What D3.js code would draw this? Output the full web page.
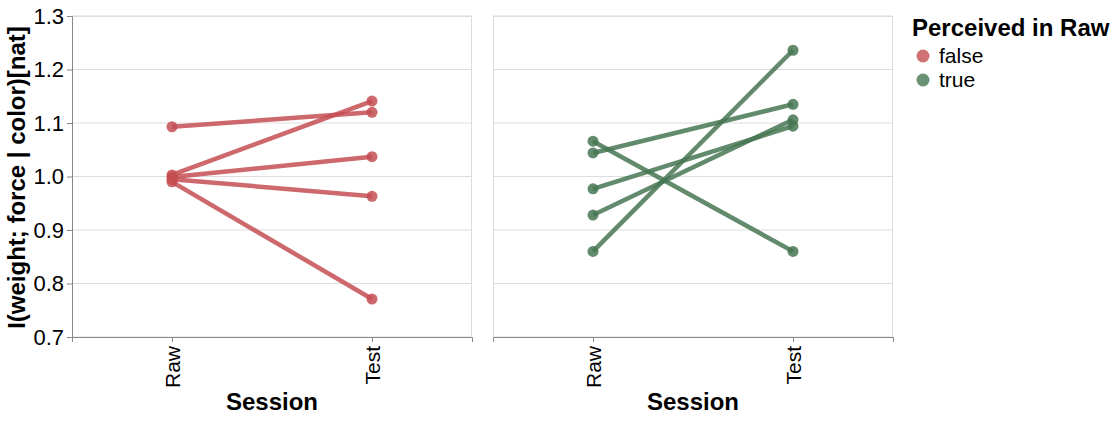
<!DOCTYPE html>
<html><head><meta charset="utf-8">
<script src="https://cdn.jsdelivr.net/npm/d3@7"></script>
<style>body{margin:0;background:#fff;font-family:"Liberation Sans",Arial,sans-serif;}</style>
</head><body><svg id="c" width="1116" height="422"></svg>
<script>
const sessions = ["Raw", "Test"];
const yTicks = [0.7, 0.8, 0.9, 1.0, 1.1, 1.2, 1.3];
const groups = ["false", "true"];
const groupColors = ["#c44e52", "#467552"];
// false panel: pairs Raw -> Test
const falseRaw  = [1.093, 1.003, 0.999, 0.995, 0.990];
const falseTest = [1.120, 1.141, 1.037, 0.963, 0.771];
// true panel
const trueRaw  = [1.066, 1.044, 0.977, 0.928, 0.860];
const trueTest = [0.860, 1.135, 1.094, 1.106, 1.236];

const FONT = "Liberation Sans, Arial, sans-serif";
const svg = d3.select("#c");
const W = 400, H = 321, panelTop = 16;
const panelX = [72, 493];
const x = d3.scalePoint().domain(sessions).range([0, W]).padding(0.5);
const y = d3.scaleLinear().domain([0.7, 1.3]).range([H, 0]);
const color = d3.scaleOrdinal().domain(groups).range(groupColors);
const panels = [
  {g: "false", raw: falseRaw, test: falseTest},
  {g: "true", raw: trueRaw, test: trueTest}
];
const line = d3.line().x(d => x(d.s)).y(d => y(d.v));

panels.forEach((p, i) => {
  const g = svg.append("g").attr("transform", `translate(${panelX[i]},${panelTop})`);
  g.append("g").selectAll("line").data(yTicks).join("line")
    .attr("x1", 0).attr("x2", W).attr("y1", d => y(d)).attr("y2", d => y(d))
    .attr("stroke", "#ddd").attr("stroke-width", 1);
  g.append("rect").attr("x", 0.5).attr("y", 0.5).attr("width", W - 1).attr("height", H)
    .attr("fill", "none").attr("stroke", "#ddd");
  const xa = g.append("g").attr("transform", `translate(0,${H})`)
    .call(d3.axisBottom(x).tickSize(5).tickPadding(4));
  xa.select(".domain").attr("stroke", "#888");
  xa.selectAll(".tick line").attr("stroke", "#888");
  xa.selectAll(".tick text").attr("font-size", 21).attr("font-family", FONT)
    .attr("fill", "#000").attr("transform", "rotate(-90)").attr("text-anchor", "end")
    .attr("x", -9).attr("y", 0).attr("dy", "0.35em");
  g.append("text").attr("x", W / 2).attr("y", H + 73).attr("text-anchor", "middle")
    .attr("font-family", FONT).attr("font-size", 24).attr("font-weight", "bold").text("Session");
  if (i === 0) {
    const ya = g.append("g").call(d3.axisLeft(y).tickValues(yTicks).tickFormat(d3.format(".1f")).tickSize(5).tickPadding(3));
    ya.select(".domain").attr("stroke", "#888");
    ya.selectAll(".tick line").attr("stroke", "#888");
    ya.selectAll(".tick text").attr("font-size", 22).attr("font-family", FONT).attr("fill", "#000");
    g.append("text").attr("transform", `translate(-47,${H / 2 + 1}) rotate(-90)`).attr("text-anchor", "middle")
      .attr("font-family", FONT).attr("font-size", 24).attr("font-weight", "bold").text("I(weight; force | color)[nat]");
  }
  const c = color(p.g);
  const pairs = p.raw.map((r, k) => [{s: "Raw", v: r}, {s: "Test", v: p.test[k]}]);
  g.append("g").selectAll("path").data(pairs).join("path")
    .attr("d", line).attr("fill", "none").attr("stroke", c).attr("stroke-width", 4.5).attr("opacity", 0.85);
  const pts = pairs.flat();
  g.append("g").selectAll("circle").data(pts).join("circle")
    .attr("cx", d => x(d.s)).attr("cy", d => y(d.v)).attr("r", 5.5).attr("fill", c).attr("opacity", 0.85);
});

const lg = svg.append("g").attr("transform", "translate(912,0)");
lg.append("text").attr("x", 0).attr("y", 36).attr("font-family", FONT).attr("font-size", 24).attr("font-weight", "bold").text("Perceived in Raw");
groups.forEach((gname, k) => {
  lg.append("circle").attr("cx", 11).attr("cy", 56 + k * 24).attr("r", 6.5).attr("fill", color(gname)).attr("opacity", 0.8);
  lg.append("text").attr("x", 27).attr("y", 56 + k * 24).attr("dy", "0.35em").attr("font-family", FONT).attr("font-size", 21).text(gname);
});
</script></body></html>
